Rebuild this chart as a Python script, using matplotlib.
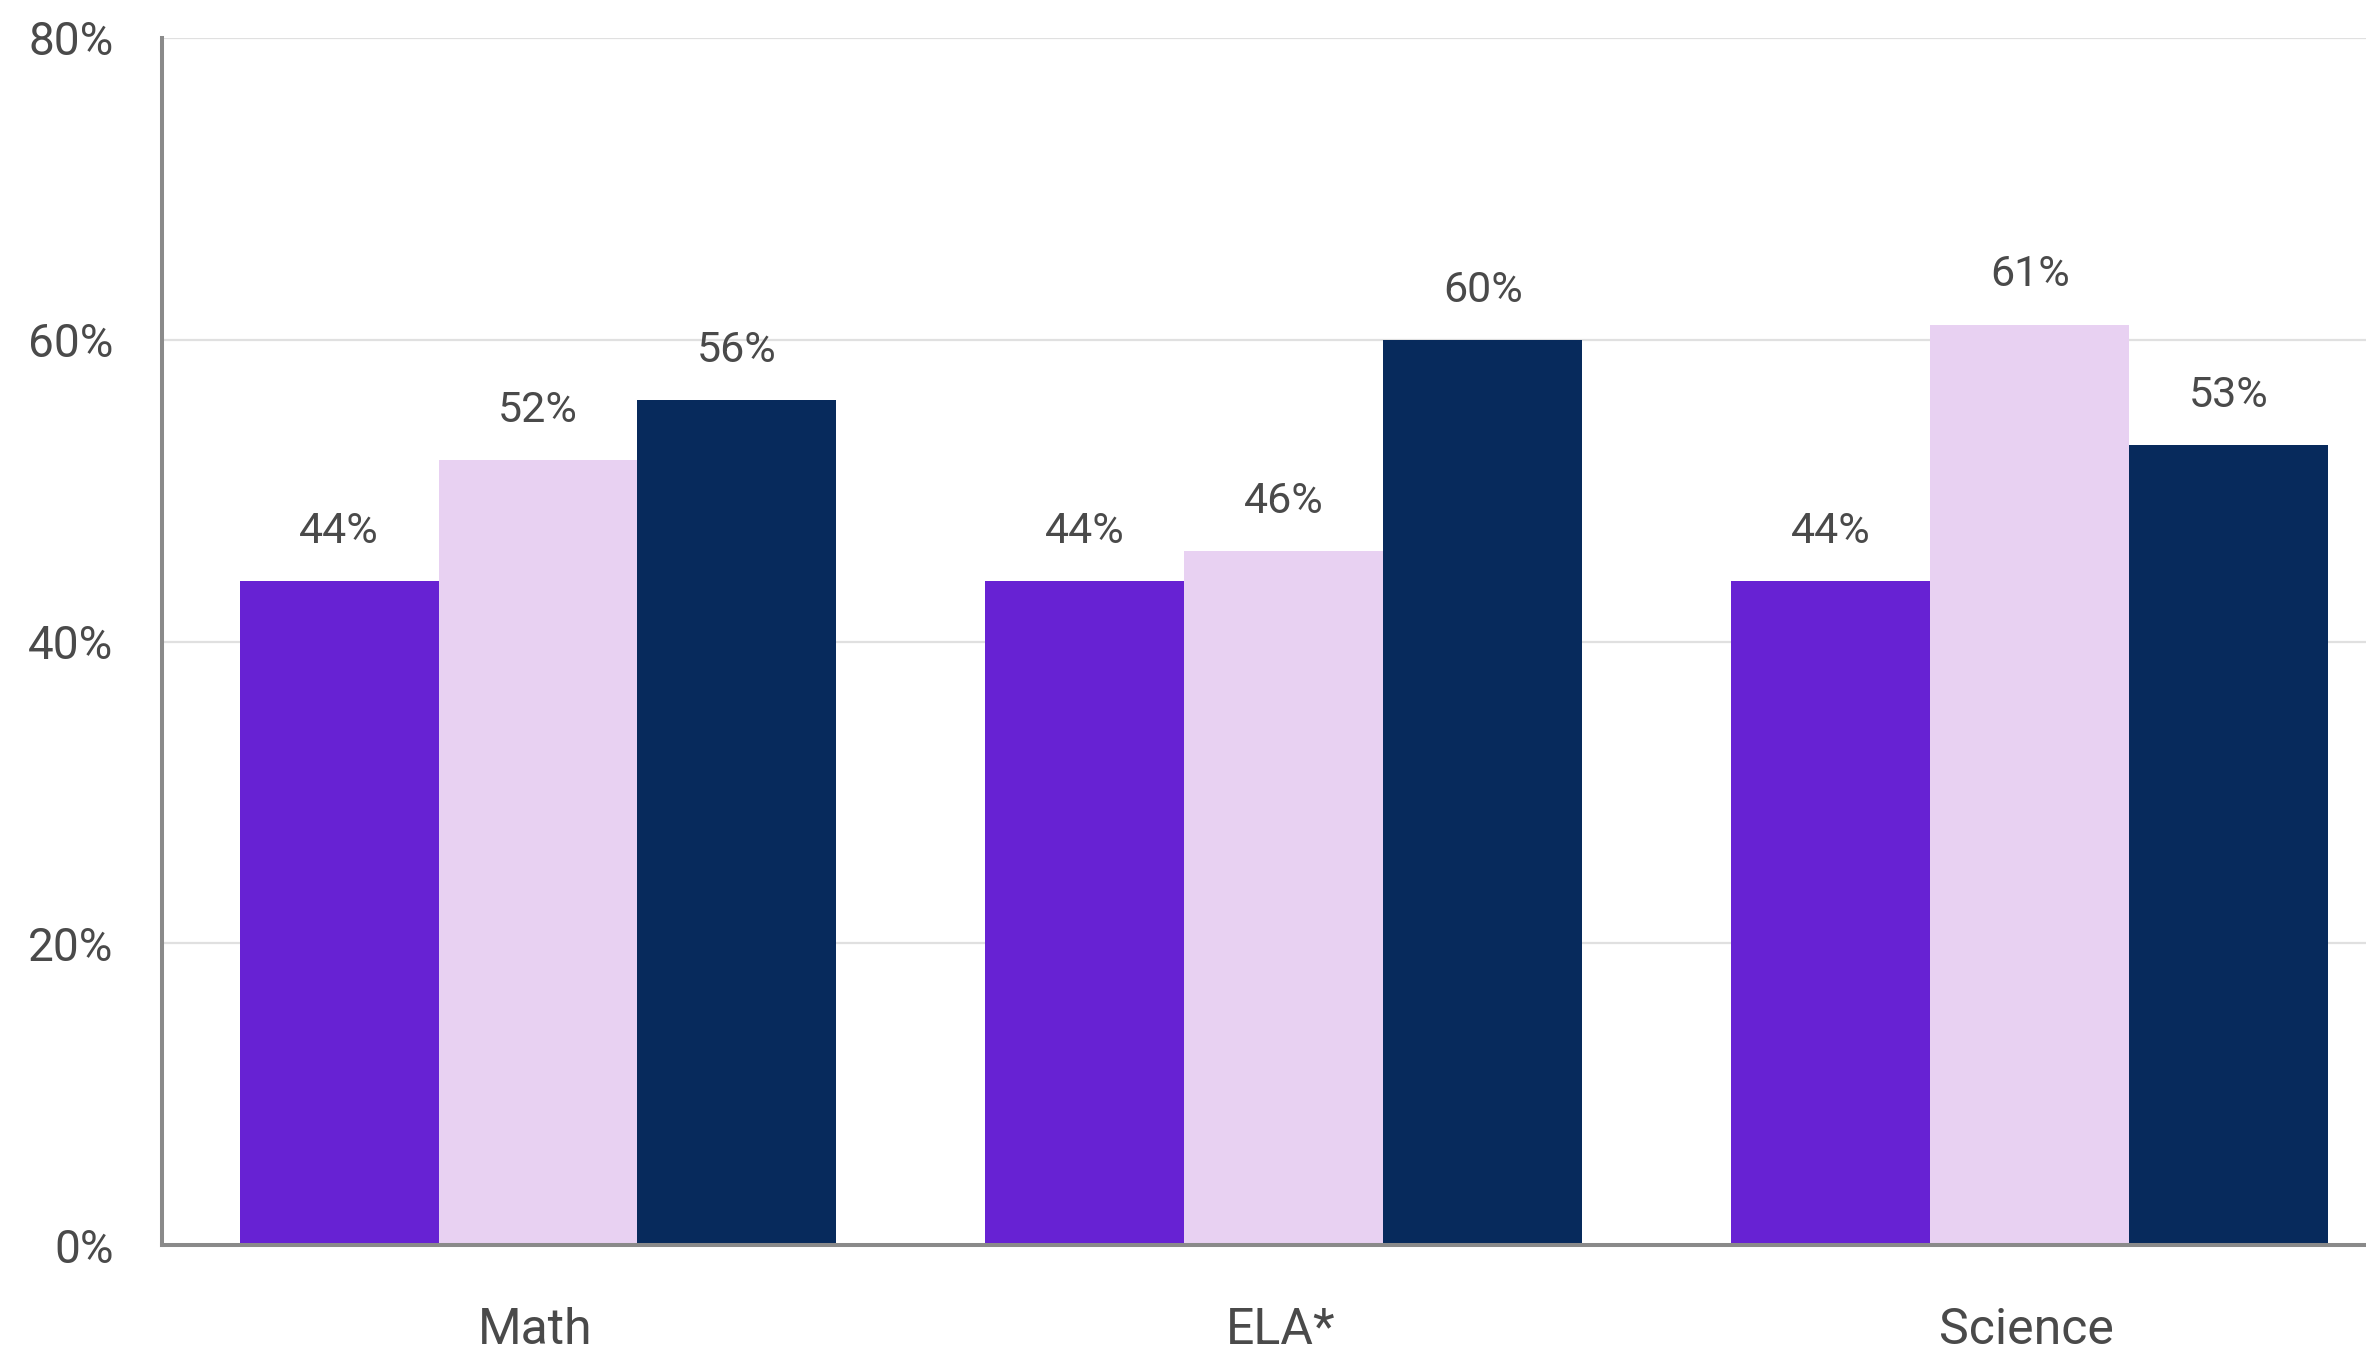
import matplotlib
matplotlib.use("Agg")
import matplotlib.pyplot as plt
import numpy as np

plt.rcParams['font.family'] = ['Roboto', 'DejaVu Sans']

# subjects along the x axis and one list per bar series
subjects = ['Math', 'ELA*', 'Science']
series_purple = [44, 44, 44]
series_lavender = [52, 46, 61]
series_navy = [56, 60, 53]
series_colors = ['#6722D3', '#E8D1F2', '#072A5C']
y_ticks = [0, 20, 40, 60, 80]

fig = plt.figure(figsize=(23.66, 13.52), dpi=100)
ax = fig.add_axes([0.0685, 0.079, 0.9315, 0.893])

x = np.arange(len(subjects))
width = 0.8 / 3
all_series = [series_purple, series_lavender, series_navy]

for i, (vals, col) in enumerate(zip(all_series, series_colors)):
    pos = x + (i - 1) * width + 0.004
    bars = ax.bar(pos, vals, width=width, color=col, zorder=2, linewidth=0)
    for b, v in zip(bars, vals):
        ax.annotate(f'{v}%', (b.get_x() + b.get_width() / 2, v),
                    xytext=(0, 21), textcoords='offset points',
                    ha='center', va='bottom', fontsize=31, color='#4a4a4a')

ax.set_xlim(-0.5, 2.455)
ax.set_ylim(0, 80)
ax.set_yticks(y_ticks)
ax.set_yticklabels([f'{t}%' for t in y_ticks])
ax.set_xticks(x)
ax.set_xticklabels(subjects)

ax.tick_params(axis='y', length=0, pad=35, labelsize=33, labelcolor='#4a4a4a')
ax.tick_params(axis='x', length=0, pad=44, labelsize=36, labelcolor='#4a4a4a')

ax.grid(axis='y', color='#E0E0E0', linewidth=1.6, zorder=0)
ax.set_axisbelow(True)

for side in ['top', 'right']:
    ax.spines[side].set_visible(False)
for side in ['left', 'bottom']:
    ax.spines[side].set_color('#8a8a8a')
    ax.spines[side].set_linewidth(2.9)
    ax.spines[side].set_zorder(3)

fig.savefig('out.png', dpi=100)
